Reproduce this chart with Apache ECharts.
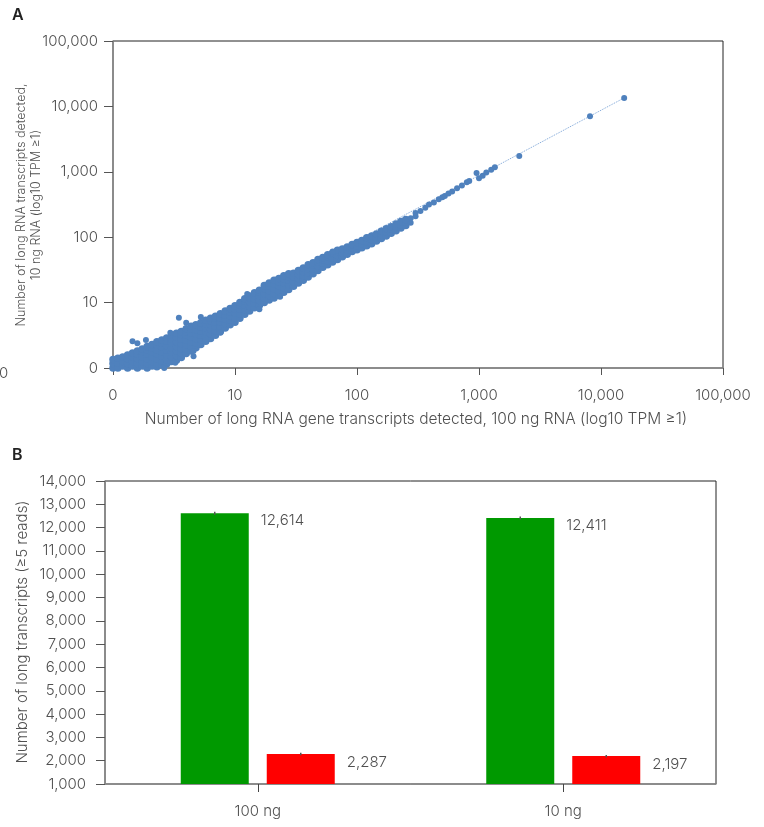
<!DOCTYPE html>
<html>
<head>
<meta charset="utf-8">
<script src="https://cdn.jsdelivr.net/npm/echarts@6/dist/echarts.min.js"></script>
<style>html,body{margin:0;padding:0;background:#fff}#c{width:764px;height:827px}</style>
</head>
<body>
<div id="c"></div>
<script>
// ---------- Panel A data (axis units: decades, log10 scale; 0 = "0") ----------
const logTickLabels = ['0', '10', '100', '1,000', '10,000', '100,000'];

const denseCloud = [
[0,0],[0,0.07],[0,0.13],
[0.04,0],[0.04,0.08],[0.04,0.15],
[0.08,0.03],[0.08,0.1],[0.08,0.17],
[0.12,0],[0.12,0.07],[0.12,0.14],[0.12,0.2],
[0.16,0.03],[0.16,0.1],[0.16,0.17],[0.16,0.23],
[0.2,0],[0.2,0.07],[0.2,0.14],[0.2,0.21],[0.2,0.26],
[0.24,0.03],[0.24,0.1],[0.24,0.17],[0.24,0.24],[0.24,0.29],
[0.28,0],[0.28,0.07],[0.28,0.14],[0.28,0.21],[0.28,0.28],[0.28,0.33],
[0.32,0.03],[0.32,0.1],[0.32,0.17],[0.32,0.24],[0.32,0.31],[0.32,0.36],
[0.36,0.02],[0.36,0.07],[0.36,0.14],[0.36,0.21],[0.36,0.28],[0.36,0.35],[0.36,0.4],
[0.4,0.05],[0.4,0.11],[0.4,0.18],[0.4,0.25],[0.4,0.32],[0.4,0.38],[0.4,0.43],
[0.44,0.06],[0.44,0.13],[0.44,0.2],[0.44,0.27],[0.44,0.34],[0.44,0.41],[0.44,0.46],
[0.48,0.1],[0.48,0.17],[0.48,0.24],[0.48,0.31],[0.48,0.38],[0.48,0.44],[0.48,0.5],
[0.52,0.12],[0.52,0.19],[0.52,0.26],[0.52,0.33],[0.52,0.4],[0.52,0.47],[0.52,0.53],
[0.56,0.16],[0.56,0.23],[0.56,0.3],[0.56,0.37],[0.56,0.44],[0.56,0.51],[0.56,0.56],
[0.6,0.22],[0.6,0.29],[0.6,0.36],[0.6,0.43],[0.6,0.5],[0.6,0.56],[0.6,0.6],
[0.64,0.26],[0.64,0.33],[0.64,0.4],[0.64,0.47],[0.64,0.54],[0.64,0.6],[0.64,0.64],
[0.68,0.31],[0.68,0.38],[0.68,0.45],[0.68,0.52],[0.68,0.59],[0.68,0.66],
[0.72,0.36],[0.72,0.43],[0.72,0.5],[0.72,0.57],[0.72,0.63],[0.72,0.69],
[0.76,0.41],[0.76,0.48],[0.76,0.55],[0.76,0.62],[0.76,0.68],[0.76,0.73],
[0.8,0.45],[0.8,0.52],[0.8,0.59],[0.8,0.66],[0.8,0.72],[0.8,0.76],
[0.84,0.5],[0.84,0.57],[0.84,0.64],[0.84,0.7],[0.84,0.76],[0.84,0.79],
[0.88,0.56],[0.88,0.63],[0.88,0.7],[0.88,0.76],[0.88,0.83],
[0.92,0.61],[0.92,0.68],[0.92,0.75],[0.92,0.81],[0.92,0.87],
[0.96,0.66],[0.96,0.73],[0.96,0.8],[0.96,0.86],[0.96,0.91],
[1,0.7],[1,0.77],[1,0.84],[1,0.9],[1,0.95],
[1.04,0.76],[1.04,0.83],[1.04,0.9],[1.04,0.96],[1.04,1],
[1.08,0.82],[1.08,0.89],[1.08,0.96],[1.08,1.02],[1.08,1.06],
[1.12,0.87],[1.12,0.94],[1.12,1.01],[1.12,1.07],[1.12,1.1],
[1.16,0.92],[1.16,0.99],[1.16,1.06],[1.16,1.11],[1.16,1.15],
[1.2,0.96],[1.2,1.03],[1.2,1.1],[1.2,1.16],[1.2,1.19],
[1.24,1],[1.24,1.07],[1.24,1.14],[1.24,1.21],[1.24,1.26],
[1.28,1.04],[1.28,1.11],[1.28,1.18],[1.28,1.25],[1.28,1.3],
[1.32,1.07],[1.32,1.14],[1.32,1.21],[1.32,1.28],[1.32,1.34],
[1.36,1.11],[1.36,1.18],[1.36,1.25],[1.36,1.32],[1.36,1.37],
[1.4,1.16],[1.4,1.23],[1.4,1.3],[1.4,1.36],[1.4,1.41],
[1.44,1.2],[1.44,1.27],[1.44,1.34],[1.44,1.4],[1.44,1.44],
[1.48,1.25],[1.48,1.32],[1.48,1.39],[1.48,1.45],
[1.52,1.3],[1.52,1.37],[1.52,1.43],[1.52,1.49],
[1.56,1.34],[1.56,1.41],[1.56,1.47],[1.56,1.53],
[1.6,1.39],[1.6,1.46],[1.6,1.52],[1.6,1.58],
[1.64,1.44],[1.64,1.51],[1.64,1.57],[1.64,1.61],
[1.68,1.49],[1.68,1.56],[1.68,1.62],[1.68,1.66],
[1.72,1.54],[1.72,1.6],[1.72,1.66],[1.72,1.69],
[1.76,1.58],[1.76,1.64],[1.76,1.7],[1.76,1.73],
[1.8,1.62],[1.8,1.68],[1.8,1.74],[1.8,1.76],
[1.84,1.66],[1.84,1.72],[1.84,1.78],[1.84,1.8],
[1.88,1.7],[1.88,1.76],[1.88,1.82],
[1.92,1.74],[1.92,1.8],[1.92,1.85],
[1.96,1.78],[1.96,1.84],[1.96,1.89],
[2,1.81],[2,1.87],[2,1.92],
[2.04,1.84],[2.04,1.9],[2.04,1.95],
[2.08,1.87],[2.08,1.93],[2.08,1.99],
[2.12,1.9],[2.12,1.96],[2.12,2.02],
[2.16,1.94],[2.16,2],[2.16,2.05],
[2.2,1.98],[2.2,2.04],[2.2,2.09],
[2.24,2.02],[2.24,2.08],[2.24,2.13],
[2.28,2.06],[2.28,2.12],[2.28,2.16],
[2.32,2.1],[2.32,2.16],[2.32,2.2],
[2.36,2.14],[2.36,2.19],[2.36,2.24],
[2.4,2.18],[2.4,2.23],[2.4,2.27]
];

const sparseUpper = [
[2.44,2.22],[2.44,2.29],[2.48,2.32],[2.48,2.37],[2.52,2.4],[2.56,2.45],[2.59,2.5],
[2.63,2.53],[2.67,2.58],[2.7,2.61],[2.72,2.63],[2.75,2.67],[2.78,2.7],[2.82,2.75],
[2.86,2.79],[2.9,2.84],[2.92,2.86],[2.98,2.98],[3,2.9],[3.03,2.94],[3.06,2.99],
[3.1,3.03],[3.13,3.07],[3.33,3.24],[3.91,3.85],[4.19,4.13]
];

const outliers = [
[0.16,0.41],[0.2,0.38],[0.27,0.43],[0.47,0.54],[0.54,0.77],[0.6,0.69],[0.66,0.26],
[0.66,0.18],[0.51,0.08],[0.76,0.43],[0.88,0.54],[0.72,0.78],[1.1,1.13],[0.42,0],
[1.2,0.9],[1.37,1.09],[1.8,1.78]
];

const trendLine = [[0, -0.04], [4.19, 4.13]];

// ---------- Panel B data ----------
const barCategories = ['100 ng', '10 ng'];
const greenValues = [12614, 12411];
const redValues = [2287, 2197];
const greenErrors = [40, 40];
const redErrors = [35, 30];

const BAR_W = 68, BAR_GAP = 18;
const font = "Inter, 'Liberation Sans', sans-serif";
const txt = '#505050';
const blue = '#4f81bd';
const fw = 300;
const fs = 15;

const chart = echarts.init(document.getElementById('c'));

const errData = [];
greenValues.forEach((v, i) => errData.push([i, v, greenErrors[i], 0]));
redValues.forEach((v, i) => errData.push([i, v, redErrors[i], 1]));

const option = {
  backgroundColor: '#fff',
  animation: false,
  textStyle: { fontFamily: font },
  grid: [
    { left: 113, right: 41, top: 41, height: 327, show: true, borderColor: '#222', borderWidth: 1 },
    { left: 105, right: 48, top: 481, height: 303, show: true, borderColor: '#222', borderWidth: 1 }
  ],
  xAxis: [
    {
      type: 'value', gridIndex: 0, min: 0, max: 5, interval: 1,
      axisLine: { show: true, lineStyle: { color: '#8a8a8a', width: 1.5 } },
      axisTick: { show: true, length: 7, lineStyle: { color: '#555' } },
      axisLabel: { margin: 20, fontSize: fs, fontWeight: fw, color: txt, fontFamily: font,
        formatter: v => logTickLabels[Math.round(v)] },
      splitLine: { show: false }
    },
    {
      type: 'category', gridIndex: 1, data: barCategories,
      axisLine: { show: true, lineStyle: { color: '#8a8a8a', width: 1.5 } },
      axisTick: { show: true, alignWithLabel: true, length: 8, lineStyle: { color: '#444' } },
      axisLabel: { margin: 20, fontSize: fs, fontWeight: fw, color: txt, fontFamily: font }
    }
  ],
  yAxis: [
    {
      type: 'value', gridIndex: 0, min: 0, max: 5, interval: 1,
      axisLine: { show: true, lineStyle: { color: '#8a8a8a', width: 1.5 } },
      axisTick: { show: true, length: 9, lineStyle: { color: '#555' } },
      axisLabel: { margin: 15, fontSize: fs, fontWeight: fw, color: txt, fontFamily: font,
        formatter: v => logTickLabels[Math.round(v)] },
      splitLine: { show: false }
    },
    {
      type: 'value', gridIndex: 1, min: 1000, max: 14000, interval: 1000,
      axisLine: { show: true, lineStyle: { color: '#8a8a8a', width: 1.5 } },
      axisTick: { show: true, length: 9, lineStyle: { color: '#555' } },
      axisLabel: { margin: 19, fontSize: fs, fontWeight: fw, color: txt, fontFamily: font,
        formatter: v => v.toLocaleString('en-US') },
      splitLine: { show: false }
    }
  ],
  series: [
    {
      type: 'line', xAxisIndex: 0, yAxisIndex: 0, data: trendLine, symbol: 'none', z: 1,
      lineStyle: { color: '#7aa3d6', width: 1, type: 'dotted' }
    },
    {
      type: 'scatter', xAxisIndex: 0, yAxisIndex: 0, z: 2,
      data: denseCloud, symbolSize: 7.5,
      itemStyle: { color: blue, opacity: 1 }
    },
    {
      type: 'scatter', xAxisIndex: 0, yAxisIndex: 0, z: 2,
      data: sparseUpper.concat(outliers), symbolSize: 6,
      itemStyle: { color: blue, opacity: 1 }
    },
    {
      type: 'bar', xAxisIndex: 1, yAxisIndex: 1, data: greenValues,
      barWidth: BAR_W, barGap: (BAR_GAP / BAR_W * 100) + '%',
      itemStyle: { color: '#009900' },
      label: { show: true, position: [BAR_W + 12, 7], align: 'left', verticalAlign: 'middle',
        fontSize: fs, fontWeight: fw, color: txt, fontFamily: font, formatter: p => p.value.toLocaleString('en-US') }
    },
    {
      type: 'bar', xAxisIndex: 1, yAxisIndex: 1, data: redValues,
      barWidth: BAR_W,
      itemStyle: { color: '#ff0000' },
      label: { show: true, position: [BAR_W + 12, 8], align: 'left', verticalAlign: 'middle',
        fontSize: fs, fontWeight: fw, color: txt, fontFamily: font, formatter: p => p.value.toLocaleString('en-US') }
    },
    {
      type: 'custom', xAxisIndex: 1, yAxisIndex: 1, data: errData, z: 5,
      renderItem: function (params, api) {
        const ci = api.value(0), v = api.value(1), e = api.value(2), s = api.value(3);
        const off = (s === 0 ? -1 : 1) * (BAR_W + BAR_GAP) / 2;
        const top = api.coord([ci, v + e]);
        const bot = api.coord([ci, v - e]);
        return { type: 'line', shape: { x1: top[0] + off, y1: top[1] - 0.5, x2: top[0] + off, y2: bot[1] + 0.5 },
          style: { stroke: '#555', lineWidth: 1.5 } };
      }
    }
  ],
  graphic: [
    { type: 'text', left: 12, top: 7, style: { text: 'A', font: '600 16px ' + font, fill: '#222' } },
    { type: 'text', left: 12, top: 447, style: { text: 'B', font: '600 16px ' + font, fill: '#222' } },
    { type: 'text', left: -1, top: 366, style: { text: '0', font: fw + ' 15px ' + font, fill: txt } },
    { type: 'text', x: 416, y: 419, style: { text: 'Number of long RNA gene transcripts detected, 100 ng RNA (log10 TPM \u22651)',
        font: fw + ' 15.5px ' + font, fill: txt, align: 'center', verticalAlign: 'middle' } },
    { type: 'text', x: 29, y: 205, rotation: Math.PI / 2,
      style: { text: 'Number of long RNA transcripts detected,\n10 ng RNA (log10 TPM \u22651)',
        font: fw + ' 12.5px ' + font, fill: txt, align: 'center', verticalAlign: 'middle', lineHeight: 15 } },
    { type: 'text', x: 22, y: 632, rotation: Math.PI / 2,
      style: { text: 'Number of long transcripts (\u22655 reads)',
        font: fw + ' 15px ' + font, fill: txt, align: 'center', verticalAlign: 'middle' } }
  ]
};
chart.setOption(option);
</script>
</body>
</html>
